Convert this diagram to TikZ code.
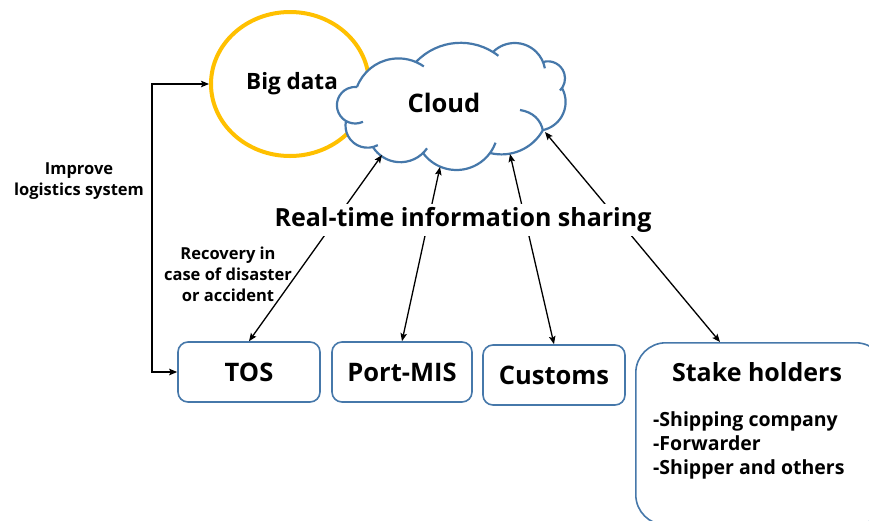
\documentclass[tikz,border=0pt]{standalone}
\usepackage{fontspec}
\setmainfont{Open Sans}
\usetikzlibrary{arrows.meta,shapes.geometric}
\definecolor{cloudblue}{RGB}{70,120,170}
\definecolor{bdyellow}{RGB}{255,192,0}

% one puff of the cloud outline: centre x, centre y, radius, start angle, end angle
\newcommand\puffarc[5]{\draw[puff] (#1,#2) ++(#4:#3) arc[start angle=#4, end angle=#5, radius=#3];}
\newcommand\pufffill[3]{\fill[white] (#1,#2) circle[radius=#3];}

\begin{document}
\begin{tikzpicture}[x=1pt,y=-1pt,
  tip/.tip={Stealth[length=8pt,width=6.5pt,inset=1.5pt]},
  conn/.style={black, line width=1.3pt, tip-tip},
  sysbox/.style={draw=cloudblue, line width=1.6pt, rounded corners=10pt, fill=white,
    minimum height=60pt, inner sep=0pt, font=\bfseries\fontsize{25.5}{30}\selectfont},
  puff/.style={draw=cloudblue, line width=2.2pt},
  note/.style={align=center, inner sep=1pt, font=\bfseries\fontsize{16.5}{21}\selectfont},
  bigtext/.style={font=\bfseries\fontsize{25}{30}\selectfont}
]
\useasboundingbox (0,0) rectangle (869,520);

% Big data
\node[draw=bdyellow, line width=4pt, ellipse, minimum width=158pt, minimum height=144pt,
      inner sep=0pt] (bd) at (290,84) {};
\node[font=\bfseries\fontsize{22.5}{27}\selectfont] (bdtext) at (292,84) {Big data};

% Cloud: white body
\pufffill{355.2}{105.2}{18.3}
\pufffill{398.4}{102.7}{44.3}
\pufffill{460.6}{104.2}{61.4}
\pufffill{514.7}{73.6}{30.6}
\pufffill{547.9}{78.4}{17.1}
\pufffill{536.9}{102}{28.7}
\pufffill{501.5}{106.9}{47.5}
\pufffill{456.5}{128.5}{41.5}
\pufffill{400.4}{129.7}{32.5}
\pufffill{367.5}{125.7}{22}
\fill[white] (346,121) -- (357,87) -- (416,62) -- (493,52) -- (543,62) -- (562,88)
  -- (543,130) -- (490,153) -- (423,153) -- (373,147) -- cycle;
% Cloud: outline puffs
\puffarc{355.2}{105.2}{18.3}{65}{275.6}
\puffarc{398.4}{102.7}{44.3}{200.8}{305}
\puffarc{460.6}{104.2}{61.4}{223.4}{308}
\puffarc{514.7}{73.6}{30.6}{224.9}{350}
\puffarc{547.9}{78.4}{17.1}{253.4}{405}
\puffarc{536.9}{102}{28.7}{330.8}{437.7}
\puffarc{501.5}{106.9}{47.5}{29.1}{104}
\puffarc{456.5}{128.5}{41.5}{20}{143.8}
\puffarc{400.4}{129.7}{32.5}{35}{147.7}
\puffarc{367.5}{125.7}{22}{62}{192.3}
\draw[puff] (520,110) .. controls (533,112) and (541,120) .. (543,131);
\node[font=\bfseries\fontsize{25.5}{30}\selectfont] (cloud) at (444,103) {Cloud};

% contact points on the cloud outline
\coordinate (c1) at (382,155);
\coordinate (c2) at (440,167);
\coordinate (c3) at (510,154);
\coordinate (c4) at (545,132);

% Systems
\node[sysbox, minimum width=142pt] (tos) at (249,372) {TOS};
\node[sysbox, minimum width=140pt] (pmis) at (402,372) {Port-MIS};
\node[sysbox, minimum width=142pt] (cust) at (554,375) {Customs};

% Stake holders
\node[draw=cloudblue, line width=1.6pt, rounded corners=30pt, minimum width=250pt,
      minimum height=182pt, inner sep=0pt, anchor=north west] (sh) at (635,342) {};
\node[bigtext] (shtitle) at (757,372) {Stake holders};
\node[anchor=west, align=left, inner sep=0pt, font=\bfseries\fontsize{19.5}{24}\selectfont]
  (shlist) at (653,445) {-Shipping company\\-Forwarder\\-Shipper and others};
\coordinate (shtop) at (720,342);

% Information sharing links
\draw[conn] (c1) -- (tos.north);
\draw[conn] (c2) -- (pmis.north);
\draw[conn] (c3) -- (cust.north);
\draw[conn] (c4) -- (shtop);
\node[fill=white, inner sep=3pt, bigtext] (rt) at (463,220) {Real-time information sharing};

% Feedback loop
\draw[conn] (bd.west) -- ++(-57,0) |- (tos.west);
\node[note] (imp) at (79,181) {Improve\\logistics system};
\node[note] (rec) at (228,274) {Recovery in\\case of disaster\\or accident};
\end{tikzpicture}
\end{document}
